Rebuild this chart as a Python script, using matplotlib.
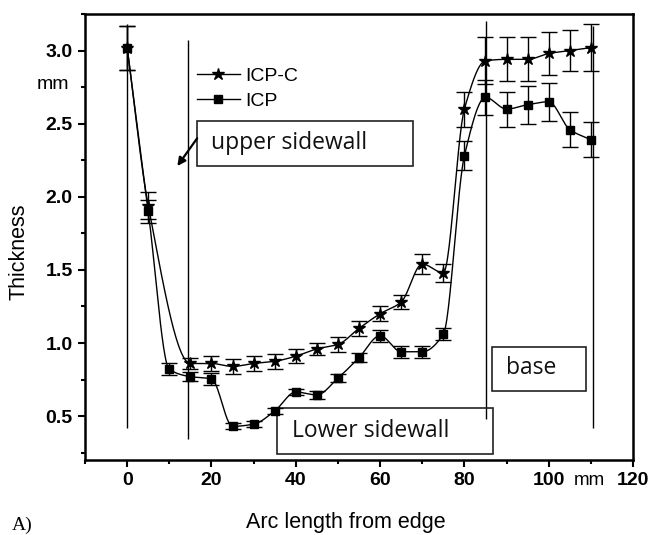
"""Wall thickness along the arc length for ICP-C and ICP parts."""

import numpy as np
import matplotlib

matplotlib.use("Agg")
import matplotlib.pyplot as plt
from matplotlib.font_manager import FontProperties
from matplotlib.lines import Line2D
from matplotlib.patches import Rectangle
from matplotlib.ticker import MultipleLocator

# Measured thickness (mm) against arc length from the edge (mm)
icpc_x = [0, 5, 15, 20, 25, 30, 35, 40, 45, 50, 55, 60, 65, 70, 75, 80,
          85, 90, 95, 100, 105, 110]
icpc_y = [3.02, 1.94, 0.86, 0.86, 0.84, 0.86, 0.875, 0.91, 0.96, 0.99,
          1.10, 1.20, 1.28, 1.54, 1.48, 2.60, 2.93, 2.94, 2.94, 2.98,
          3.00, 3.02]
icpc_err = [0.15, 0.09, 0.04, 0.05, 0.05, 0.05, 0.05, 0.05, 0.04, 0.05,
            0.05, 0.05, 0.05, 0.07, 0.06, 0.12, 0.16, 0.15, 0.15, 0.15,
            0.14, 0.16]

icp_x = [0, 5, 10, 15, 20, 25, 30, 35, 40, 45, 50, 55, 60, 65, 70, 75, 80,
         85, 90, 95, 100, 105, 110]
icp_y = [3.02, 1.90, 0.82, 0.77, 0.755, 0.43, 0.445, 0.535, 0.665, 0.645,
         0.76, 0.90, 1.05, 0.94, 0.94, 1.06, 2.28, 2.68, 2.60, 2.63, 2.65,
         2.46, 2.39]
icp_err = [0.15, 0.08, 0.04, 0.03, 0.04, 0.02, 0.02, 0.02, 0.02, 0.03,
           0.03, 0.03, 0.04, 0.04, 0.04, 0.04, 0.10, 0.12, 0.12, 0.13,
           0.13, 0.12, 0.12]

# Region boundaries along the arc
boundary_x = [0, 14.5, 85.2, 110.5]
boundary_lo = [0.42, 0.345, 0.48, 0.42]
boundary_hi = [3.18, 3.075, 3.20, 3.17]

TICK_FONT = dict(family="Liberation Sans", weight="bold", size=14)
LABEL_FONT = dict(family="Liberation Sans", size=15.5)
BOX_FONT = dict(family="Open Sans", size=16.5)


def pchip(x, y, xs):
    """Monotone cubic Hermite interpolation (Fritsch-Carlson)."""
    x = np.asarray(x, float)
    y = np.asarray(y, float)
    h = np.diff(x)
    delta = np.diff(y) / h
    d = np.zeros_like(y)
    for k in range(1, len(x) - 1):
        if delta[k - 1] * delta[k] > 0:
            w1 = 2 * h[k] + h[k - 1]
            w2 = h[k] + 2 * h[k - 1]
            d[k] = (w1 + w2) / (w1 / delta[k - 1] + w2 / delta[k])
    d[0] = delta[0]
    d[-1] = delta[-1]
    idx = np.clip(np.searchsorted(x, xs) - 1, 0, len(h) - 1)
    t = (xs - x[idx]) / h[idx]
    h00 = 2 * t**3 - 3 * t**2 + 1
    h10 = t**3 - 2 * t**2 + t
    h01 = -2 * t**3 + 3 * t**2
    h11 = t**3 - t**2
    return (h00 * y[idx] + h10 * h[idx] * d[idx]
            + h01 * y[idx + 1] + h11 * h[idx] * d[idx + 1])


def draw_series(ax, x, y, err, marker, ms):
    """Smooth connecting curve plus markers with error bars."""
    xs = np.linspace(min(x), max(x), 600)
    ax.plot(xs, pchip(x, y, xs), color="black", lw=1.0, zorder=3)
    ax.errorbar(x, y, yerr=err, fmt=marker, color="black", ms=ms,
                ecolor="black", elinewidth=1.0, capsize=5.5, capthick=1.0,
                zorder=4)


def region_box(ax, x0, x1, y0, y1, text, tx, ty):
    ax.add_patch(Rectangle((x0, y0), x1 - x0, y1 - y0, fill=False,
                           edgecolor="#222222", lw=1.2, zorder=2))
    ax.text(tx, ty, text, ha="left", va="center", color="#111111",
            zorder=5, **BOX_FONT)


fig = plt.figure(figsize=(6.55, 5.35), dpi=100)
ax = fig.add_axes([0.1298, 0.1402, 0.8366, 0.8336])

draw_series(ax, icpc_x, icpc_y, icpc_err, "*", 9)
draw_series(ax, icp_x, icp_y, icp_err, "s", 6)

ax.vlines(boundary_x, boundary_lo, boundary_hi, color="black", lw=1.0,
          zorder=2)

region_box(ax, 16.6, 67.9, 2.21, 2.52, "upper sidewall", 20.0, 2.37)
region_box(ax, 35.6, 86.9, 0.24, 0.555, "Lower sidewall", 39.1, 0.40)
region_box(ax, 86.5, 108.8, 0.671, 0.973, "base", 89.8, 0.83)

ax.annotate("", xy=(11.9, 2.21), xytext=(16.6, 2.40),
            arrowprops=dict(arrowstyle="-|>", color="black", lw=1.6,
                            mutation_scale=12, shrinkA=0, shrinkB=0))

# Legend
handles = [
    Line2D([], [], color="black", lw=1.0, marker="*", ms=9),
    Line2D([], [], color="black", lw=1.0, marker="s", ms=5.5),
]
leg = ax.legend(handles, ["ICP-C", "ICP"], loc="center left",
                bbox_to_anchor=(0.204, 0.833), frameon=False,
                borderpad=0, borderaxespad=0, handlelength=2.2,
                handletextpad=0.3, labelspacing=0.35,
                prop=dict(family="Liberation Sans", size=14))

# Axes limits and ticks
ax.set_xlim(-10, 120)
ax.set_ylim(0.2, 3.25)
ax.xaxis.set_minor_locator(MultipleLocator(10))
ax.yaxis.set_minor_locator(MultipleLocator(0.25))
ax.set_xticks([0, 20, 40, 60, 80, 100, 120])
ax.set_yticks([0.5, 1.0, 1.5, 2.0, 2.5, 3.0])
ax.set_yticklabels([f"{v:.1f}" for v in ax.get_yticks()])
ax.tick_params(which="major", direction="out", length=5, width=1.5,
               pad=4)
ax.tick_params(which="minor", direction="out", length=3, width=1.5)
ax.tick_params(top=False, right=False)
for lab in ax.get_xticklabels() + ax.get_yticklabels():
    lab.set_fontproperties(FontProperties(**TICK_FONT))
for side in ["left", "right", "top", "bottom"]:
    ax.spines[side].set_linewidth(1.8)

# Unit marks next to the tick labels
ax.text(-0.058, 2.77, "mm", transform=ax.get_yaxis_transform(),
        ha="center", va="center", family="Liberation Sans", size=14)
ax.text(109.6, -0.047, "mm", transform=ax.get_xaxis_transform(),
        ha="center", va="center", family="Liberation Sans", size=13.5)

ax.set_ylabel("Thickness", **LABEL_FONT)
ax.set_xlabel("Arc length from edge", **LABEL_FONT)
ax.yaxis.set_label_coords(-0.102, 0.466)
ax.xaxis.set_label_coords(0.476, -0.117)

fig.text(0.018, 0.002, "A)", family="Liberation Serif", size=14,
         ha="left", va="bottom")

fig.savefig("out.png", dpi=100)
